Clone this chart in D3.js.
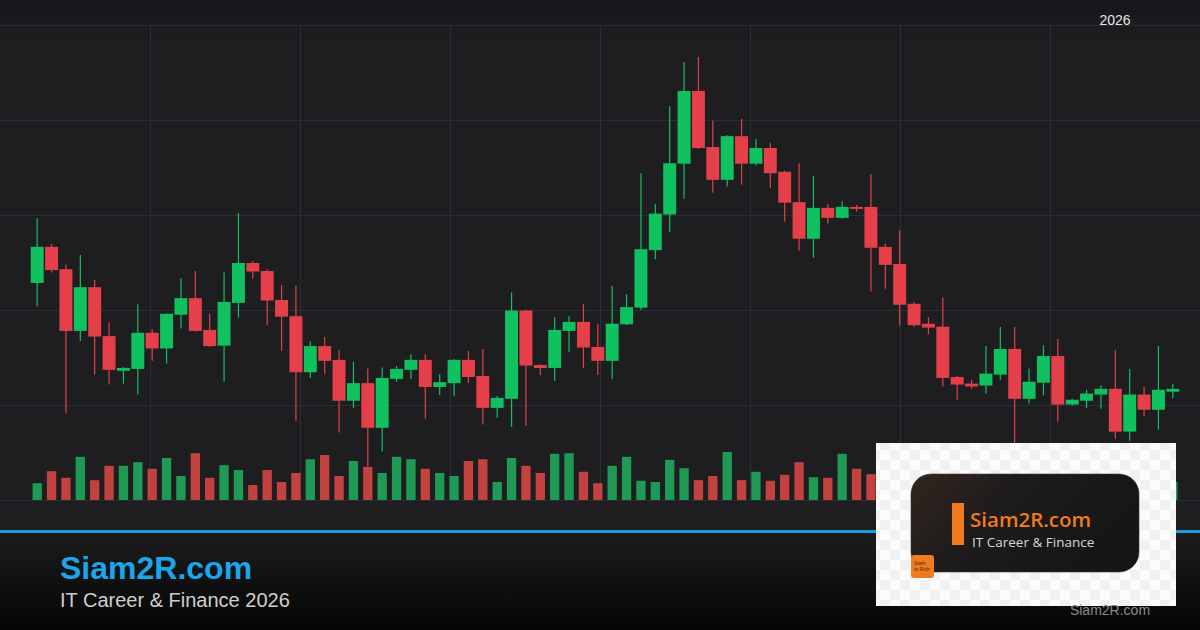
<html>
<head>
<meta charset="utf-8">
<script src="https://d3js.org/d3.v7.min.js"></script>
<style>
  html, body { margin: 0; padding: 0; background: #1e1e20; }
  svg { display: block; }
</style>
</head>
<body>
<script>

// candle data
var opens  = [125.7,133.3,128.6,115.6,124.8,114.5,107.2,107.6,115.2,111.9,
              119.0,122.5,115.8,112.5,121.5,129.9,128.2,122.1,118.7,106.9,
              112.4,109.5,100.9,104.6,95.2,105.5,107.4,109.5,103.8,104.6,
              109.5,106.1,99.4,101.3,119.9,108.4,107.8,115.6,117.5,112.2,
              109.3,117.0,120.5,132.6,140.1,150.8,166.1,154.3,147.4,156.6,
              150.8,154.1,149.1,142.7,135.0,141.5,139.4,141.7,141.7,133.3,
              129.7,121.3,117.1,116.5,105.9,104.5,104.1,106.4,111.8,101.3,
              104.7,110.3,100.1,100.9,102.2,103.4,94.4,102.2,99.0,102.8];
var highs  = [139.3,133.9,129.6,131.6,126.3,117.4,108.0,121.2,115.9,119.3,
              126.7,128.2,119.2,127.9,140.4,130.3,128.6,125.3,125.1,113.4,
              114.3,111.6,109.1,107.7,107.9,108.2,110.7,110.7,106.5,109.7,
              111.4,111.8,101.9,123.7,120.1,108.6,118.5,118.7,121.3,117.1,
              125.1,123.3,148.8,142.3,162.9,172.2,173.3,159.9,156.8,160.2,
              156.0,155.2,149.3,150.9,148.2,142.3,142.9,142.1,148.6,134.0,
              136.8,121.7,118.5,122.7,106.1,105.3,112.4,116.4,116.4,107.7,
              112.6,113.9,101.3,103.2,104.1,111.6,107.6,103.9,112.4,104.5];
var lows   = [120.8,127.9,98.2,113.5,106.4,104.3,104.5,102.2,109.3,108.7,
              116.1,115.5,112.2,104.9,118.4,126.6,116.8,111.4,96.7,105.7,
              106.6,94.2,99.4,87.0,90.2,104.9,105.5,97.1,102.1,101.9,
              104.6,95.9,97.3,95.4,95.6,106.3,105.1,111.2,107.8,106.3,
              105.5,116.8,120.0,130.7,136.5,143.4,153.9,144.7,146.0,146.4,
              150.4,145.7,138.6,132.5,131.0,138.2,139.2,140.7,123.9,124.5,
              116.7,116.5,114.9,103.9,101.1,103.4,102.4,105.3,91.6,100.3,
              102.0,96.5,99.9,99.4,99.2,92.9,92.5,97.7,94.8,101.5];
var closes = [133.3,128.4,115.6,124.8,114.4,107.4,107.8,115.2,111.9,119.2,
              122.5,115.6,112.4,121.7,129.9,128.1,122.0,118.6,106.9,112.4,
              109.3,100.9,104.6,95.2,105.7,107.6,109.5,103.8,104.8,109.5,
              105.9,99.4,101.5,119.9,108.3,107.8,115.8,117.5,112.1,109.3,
              117.1,120.6,132.8,140.3,150.9,166.1,154.1,147.4,156.6,150.8,
              154.1,148.8,142.6,135.0,141.5,139.4,141.7,141.3,133.1,129.5,
              121.1,116.8,116.3,105.7,104.3,103.9,106.6,111.8,101.3,104.9,
              110.3,100.1,101.1,102.4,103.4,94.4,102.2,99.0,103.2,103.4];
var volumes = [28,48,37,72,33,57,57,63,52,70,
               40,78,37,58,50,25,50,30,45,68,
               75,40,65,55,45,72,68,52,45,40,
               65,68,30,70,57,45,77,78,47,28,
               57,72,32,30,67,53,33,40,80,33,
               47,32,42,63,38,37,77,52,43,55,
               48,36,42,62,40,30,45,58,70,44,
               52,60,28,35,38,66,60,42,50,30];
var yearLabel = "2026";

var W = 1200, H = 630;
var up = "#0fc15f", down = "#e5404a";
var upVol = "#1f9a54", downVol = "#c2423f";

var svg = d3.select("body").append("svg")
    .attr("width", W)
    .attr("height", H);

var defs = svg.append("defs");

var topGrad = defs.append("linearGradient").attr("id", "topGrad")
    .attr("x1", 0).attr("y1", 0).attr("x2", 0).attr("y2", 1);
topGrad.append("stop").attr("offset", "0%").attr("stop-color", "#151619");
topGrad.append("stop").attr("offset", "100%").attr("stop-color", "#1e1e20");

var footGrad = defs.append("linearGradient").attr("id", "footGrad")
    .attr("x1", 0).attr("y1", 0).attr("x2", 0).attr("y2", 1);
footGrad.append("stop").attr("offset", "0%").attr("stop-color", "#1c1c1c");
footGrad.append("stop").attr("offset", "100%").attr("stop-color", "#050505");

var cardGrad = defs.append("linearGradient").attr("id", "cardGrad")
    .attr("x1", 0).attr("y1", 0).attr("x2", 1).attr("y2", 0.4);
cardGrad.append("stop").attr("offset", "0%").attr("stop-color", "#33261f");
cardGrad.append("stop").attr("offset", "45%").attr("stop-color", "#1d1b1b");
cardGrad.append("stop").attr("offset", "100%").attr("stop-color", "#161616");

var checker = defs.append("pattern").attr("id", "checker")
    .attr("width", 20).attr("height", 20)
    .attr("patternUnits", "userSpaceOnUse");
checker.append("rect").attr("width", 20).attr("height", 20).attr("fill", "#fbfbfb");
checker.append("rect").attr("width", 10).attr("height", 10).attr("fill", "#f1f1f1");
checker.append("rect").attr("x", 10).attr("y", 10).attr("width", 10).attr("height", 10).attr("fill", "#f1f1f1");

// background
svg.append("rect").attr("width", W).attr("height", 533).attr("fill", "#1e1e20");
svg.append("rect").attr("width", W).attr("height", 40).attr("fill", "url(#topGrad)");

// scales
var idx = d3.range(opens.length);
var x = d3.scaleBand()
    .domain(idx)
    .range([30, 1180])
    .paddingInner(0.1)
    .paddingOuter(0.05);
var y = d3.scaleLinear()
    .domain([80, 180])
    .range([500, 25]);
var yVol = d3.scaleLinear()
    .domain([0, 100])
    .range([500, 440]);
var xGrid = d3.scaleLinear()
    .domain([0, 8])
    .range([0, W]);

// grid
var grid = svg.append("g").attr("stroke", "#2b2e39").attr("stroke-width", 1);
grid.selectAll(".hg")
    .data(y.ticks(5))
  .enter().append("line")
    .attr("x1", 0).attr("x2", W)
    .attr("y1", function(d) { return Math.round(y(d)) + 0.5; })
    .attr("y2", function(d) { return Math.round(y(d)) + 0.5; });
grid.selectAll(".vg")
    .data(d3.range(1, 8))
  .enter().append("line")
    .attr("x1", function(d) { return xGrid(d) + 0.5; })
    .attr("x2", function(d) { return xGrid(d) + 0.5; })
    .attr("y1", y(180)).attr("y2", y(80));

// volume
var vw = x.bandwidth() * 0.72;
svg.append("g").selectAll("rect")
    .data(idx)
  .enter().append("rect")
    .attr("x", function(i) { return x(i) + (x.bandwidth() - vw) / 2; })
    .attr("width", vw)
    .attr("y", function(i) { return yVol(volumes[i]); })
    .attr("height", function(i) { return yVol(0) - yVol(volumes[i]); })
    .attr("fill", function(i) { return closes[i] >= opens[i] ? upVol : downVol; });

// candles
var candle = svg.append("g").selectAll("g")
    .data(idx)
  .enter().append("g");

candle.append("line")
    .attr("x1", function(i) { return x(i) + x.bandwidth() / 2; })
    .attr("x2", function(i) { return x(i) + x.bandwidth() / 2; })
    .attr("y1", function(i) { return y(highs[i]); })
    .attr("y2", function(i) { return y(lows[i]); })
    .attr("stroke", function(i) { return closes[i] >= opens[i] ? up : down; })
    .attr("stroke-width", 1.2);

candle.append("rect")
    .attr("x", function(i) { return x(i); })
    .attr("width", x.bandwidth())
    .attr("y", function(i) { return y(Math.max(opens[i], closes[i])); })
    .attr("height", function(i) { return Math.max(2, Math.abs(y(opens[i]) - y(closes[i]))); })
    .attr("fill", function(i) { return closes[i] >= opens[i] ? up : down; });

svg.append("text")
    .attr("x", 1115).attr("y", 25)
    .attr("text-anchor", "middle")
    .attr("font-family", "Liberation Sans, Arial, sans-serif")
    .attr("font-size", 14)
    .attr("fill", "#e6e6e6")
    .text(yearLabel);

// footer
svg.append("rect").attr("y", 533).attr("width", W).attr("height", H - 533).attr("fill", "url(#footGrad)");
svg.append("rect").attr("y", 530).attr("width", W).attr("height", 3).attr("fill", "#1b9ad8");

svg.append("text")
    .attr("x", 60).attr("y", 579)
    .attr("font-family", "Liberation Sans, Arial, sans-serif")
    .attr("font-weight", "bold")
    .attr("font-size", 32)
    .attr("fill", "#1ba6ec")
    .text("Siam2R.com");
svg.append("text")
    .attr("x", 60).attr("y", 607)
    .attr("font-family", "Liberation Sans, Arial, sans-serif")
    .attr("font-size", 20)
    .attr("fill", "#cfcfcf")
    .text("IT Career & Finance " + yearLabel);

// logo card
var logo = svg.append("g");
logo.append("rect")
    .attr("x", 876).attr("y", 443).attr("width", 300).attr("height", 163)
    .attr("fill", "url(#checker)");
logo.append("rect")
    .attr("x", 911).attr("y", 474).attr("width", 228).attr("height", 98)
    .attr("rx", 20)
    .attr("fill", "url(#cardGrad)")
    .attr("stroke", "#3a3a3a").attr("stroke-width", 0.6);
logo.append("rect")
    .attr("x", 952).attr("y", 503).attr("width", 12).attr("height", 42)
    .attr("fill", "#f07b1e");
logo.append("text")
    .attr("x", 970).attr("y", 527)
    .attr("font-family", "Open Sans, sans-serif")
    .attr("font-weight", 600)
    .attr("font-size", 20.5)
    .attr("fill", "#f07b1e")
    .text("Siam2R.com");
logo.append("text")
    .attr("x", 972).attr("y", 547)
    .attr("font-family", "Open Sans, sans-serif")
    .attr("font-size", 13.5)
    .attr("fill", "#d8d8d8")
    .text("IT Career & Finance");
logo.append("rect")
    .attr("x", 911).attr("y", 555).attr("width", 23).attr("height", 23)
    .attr("rx", 3)
    .attr("fill", "#f07b1e");
logo.append("text")
    .attr("x", 914).attr("y", 565)
    .attr("font-family", "Open Sans, sans-serif")
    .attr("font-size", 5)
    .attr("fill", "#3a1d05")
    .text("Siam");
logo.append("text")
    .attr("x", 914).attr("y", 571)
    .attr("font-family", "Open Sans, sans-serif")
    .attr("font-size", 5)
    .attr("fill", "#3a1d05")
    .text("to Rich");

svg.append("text")
    .attr("x", 1110).attr("y", 615)
    .attr("text-anchor", "middle")
    .attr("font-family", "Liberation Sans, Arial, sans-serif")
    .attr("font-size", 14)
    .attr("fill", "#8a8a8a")
    .text("Siam2R.com");

</script>
</body>
</html>
